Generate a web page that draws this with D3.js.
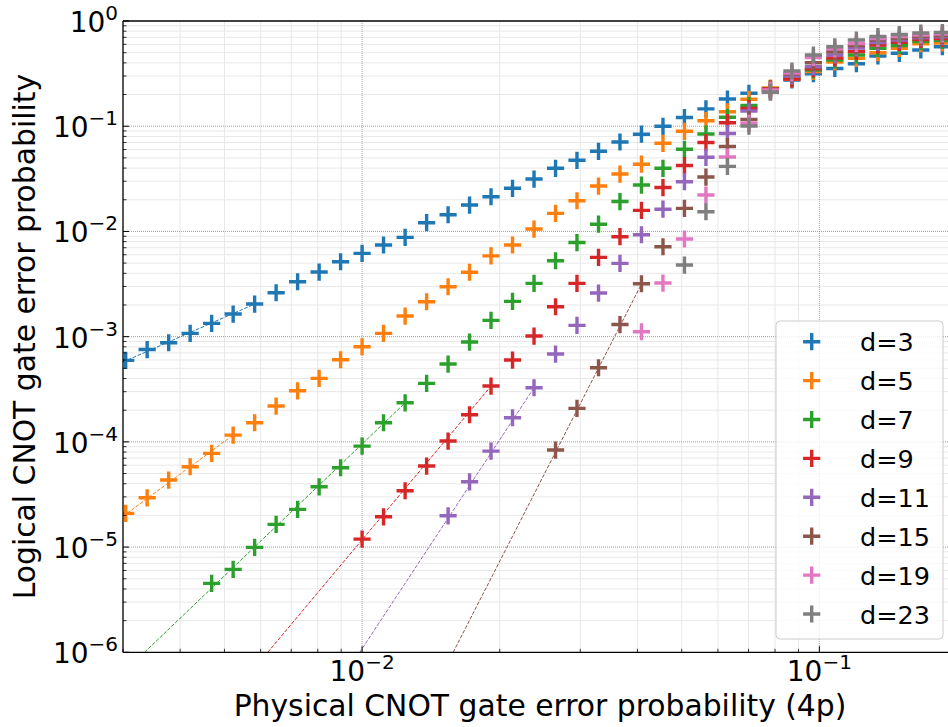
<!DOCTYPE html>
<html>
<head>
<meta charset="utf-8">
<script src="https://cdn.jsdelivr.net/npm/d3@7"></script>
<style>
html,body{margin:0;padding:0;background:#fff;}
svg{display:block;font-family:"DejaVu Sans",sans-serif;}
</style>
</head>
<body>
<svg id="chart" width="948" height="727"></svg>
<script>
// ---- data ----
const pValues = [0.003041,0.003388,0.003776,0.004207,0.004688,0.005224,0.005821,0.006486,0.007228,0.008054,0.008974,0.01,0.01114,0.01242,0.01384,0.01542,0.01718,0.01914,0.02133,0.02377,0.02649,0.02951,0.03289,0.03664,0.04083,0.04550,0.05070,0.05649,0.06295,0.07015,0.07816,0.08710,0.09705,0.1081,0.1205,0.1343,0.1496,0.1667,0.1858];

const distances = ["d=3","d=5","d=7","d=9","d=11","d=15","d=19","d=23"];
const colors = ["#1f77b4","#ff7f0e","#2ca02c","#d62728","#9467bd","#8c564b","#e377c2","#7f7f7f"];

const d3Vals = [0.000595,0.000754,0.000875,0.001075,0.001338,0.00164,0.002041,0.002615,0.003325,0.00411,0.00515,0.00619,0.00743,0.00879,0.0121,0.01441,0.01782,0.02137,0.02569,0.03148,0.0398,0.04742,0.05773,0.07076,0.08395,0.09977,0.121,0.1463,0.1814,0.2055,0.2258,0.2749,0.3155,0.3536,0.3927,0.4648,0.4931,0.5301,0.5695];
const d5Vals = [2.091e-5,2.941e-5,4.334e-5,5.80e-5,7.77e-5,1.160e-4,1.519e-4,2.189e-4,3.059e-4,4.015e-4,6.03e-4,8.02e-4,1.075e-3,1.570e-3,2.146e-3,2.980e-3,4.095e-3,5.86e-3,7.43e-3,0.01054,0.01486,0.01958,0.02701,0.03512,0.04353,0.06878,0.08945,0.1128,0.1373,0.1802,0.2307,0.2810,0.3311,0.4076,0.4418,0.4996,0.5501,0.6084,0.6178];
const d7Vals = [null,null,null,null,4.517e-6,6.14e-6,9.93e-6,1.643e-5,2.283e-5,3.742e-5,5.674e-5,9.12e-5,1.519e-4,2.352e-4,3.598e-4,5.49e-4,8.886e-4,1.429e-3,2.166e-3,3.210e-3,5.266e-3,7.84e-3,0.01171,0.01924,0.02761,0.0398,0.06031,0.08432,0.1215,0.1573,0.2258,0.2872,0.3421,0.4259,0.4751,0.5501,0.5849,0.6385,0.6526];
const d9Vals = [null,null,null,null,null,null,null,null,null,null,null,1.191e-5,1.941e-5,3.429e-5,5.888e-5,1.018e-4,1.810e-4,3.392e-4,5.99e-4,1.013e-3,1.924e-3,3.210e-3,5.672e-3,8.91e-3,0.01587,0.02614,0.0423,0.06999,0.108,0.1473,0.2258,0.281,0.352,0.4449,0.5129,0.5913,0.6275,0.667,0.6818];
const d11Vals = [null,null,null,null,null,null,null,null,null,null,null,null,null,null,null,1.983e-5,4.175e-5,8.17e-5,1.695e-4,3.268e-4,6.833e-4,1.281e-3,2.597e-3,4.974e-3,9.30e-3,0.01626,0.02968,0.05063,0.08524,0.1394,0.2161,0.3,0.3678,0.4751,0.5538,0.6246,0.6598,0.694,0.7092];
const d15Vals = [null,null,null,null,null,null,null,null,null,null,null,null,null,null,null,null,null,null,null,null,8.36e-5,2.082e-4,5.061e-4,1.303e-3,3.183e-3,7.154e-3,0.01658,0.03289,0.06412,0.1158,0.2114,0.3135,0.4015,0.5106,0.5849,0.6598,0.6848,0.7123,0.7281];
const d19Vals = [null,null,null,null,null,null,null,null,null,null,null,null,null,null,null,null,null,null,null,null,null,null,null,null,1.113e-3,3.232e-3,8.47e-3,0.02218,0.05096,0.1066,0.2209,0.3203,0.4498,0.5419,0.6111,0.6818,0.7123,0.7361,0.7523];
const d23Vals = [null,null,null,null,null,null,null,null,null,null,null,null,null,null,null,null,null,null,null,null,null,null,null,null,null,null,4.792e-3,0.01539,0.04157,0.1004,0.2114,0.3347,0.4751,0.5695,0.6598,0.7123,0.7442,0.769,0.7775];
const seriesValues = [d3Vals,d5Vals,d7Vals,d9Vals,d11Vals,d15Vals,d19Vals,d23Vals];

// low-p power-law fits (dashed), endpoints per series d=3..15
const fitP0 = [0.003, 0.003, 0.003344, 0.006218, 0.00988, 0.01582];
const fitP1 = [0.005821, 0.005224, 0.01242, 0.01914, 0.02377, 0.04083];
const fitL0 = [5.74e-4, 1.96e-5, 1e-6, 1e-6, 1e-6, 1e-6];
const fitL1 = [2.04e-3, 1.16e-4, 2.35e-4, 3.39e-4, 3.27e-4, 3.16e-3];

const xTickVals = [0.01, 0.1];
const xTickExps = ["\u22122", "\u22121"];
const yTickVals = [1, 0.1, 0.01, 0.001, 1e-4, 1e-5, 1e-6];
const yTickExps = ["0", "\u22121", "\u22122", "\u22123", "\u22124", "\u22125", "\u22126"];
const xLabel = "Physical CNOT gate error probability (4p)";
const yLabel = "Logical CNOT gate error probability";

// ---- layout ----
const L = 123, T = 21, R = 957, B = 652.3;
const svg = d3.select("#chart");
const x = d3.scaleLog().domain([0.003, 0.2]).range([L, R]);
const y = d3.scaleLog().domain([1e-6, 1]).range([B, T]);

svg.append("defs").append("clipPath").attr("id","clip")
  .append("rect").attr("x",L).attr("y",T).attr("width",R-L).attr("height",B-T);

const grid = svg.append("g");
// minor grid
const xMinor = x.ticks().filter(v => !xTickVals.includes(v) && Math.abs(Math.log10(v) - Math.round(Math.log10(v))) > 1e-6);
const yMinor = y.ticks().filter(v => Math.abs(Math.log10(v) - Math.round(Math.log10(v))) > 1e-6);
grid.selectAll(".xm").data(xMinor).enter().append("line")
  .attr("x1",d=>x(d)).attr("x2",d=>x(d)).attr("y1",T).attr("y2",B)
  .attr("stroke","#e8e8e8").attr("stroke-width",1);
grid.selectAll(".ym").data(yMinor).enter().append("line")
  .attr("x1",L).attr("x2",R).attr("y1",d=>y(d)).attr("y2",d=>y(d))
  .attr("stroke","#e8e8e8").attr("stroke-width",1);
// major grid
grid.selectAll(".xM").data(xTickVals).enter().append("line")
  .attr("x1",d=>x(d)).attr("x2",d=>x(d)).attr("y1",T).attr("y2",B)
  .attr("stroke","#8a8a8a").attr("stroke-width",0.8).attr("stroke-dasharray","1,1");
grid.selectAll(".yM").data(yTickVals.slice(1,-1)).enter().append("line")
  .attr("x1",L).attr("x2",R).attr("y1",d=>y(d)).attr("y2",d=>y(d))
  .attr("stroke","#8a8a8a").attr("stroke-width",0.8).attr("stroke-dasharray","1,1");

// fits
const plot = svg.append("g").attr("clip-path","url(#clip)");
fitP0.forEach((p0,i) => {
  plot.append("line")
    .attr("x1",x(p0)).attr("y1",y(fitL0[i]))
    .attr("x2",x(fitP1[i])).attr("y2",y(fitL1[i]))
    .attr("stroke",colors[i]).attr("stroke-width",1)
    .attr("stroke-dasharray","3.7,1.6");
});

// markers
const ms = 8.6;
seriesValues.forEach((vals,si) => {
  const pts = vals.map((v,i)=>({p:pValues[i],v})).filter(d=>d.v!==null);
  plot.append("g").selectAll("path").data(pts).enter().append("path")
    .attr("d", d => {
      const cx = x(d.p), cy = y(d.v);
      return `M${cx-ms},${cy}H${cx+ms}M${cx},${cy-ms}V${cy+ms}`;
    })
    .attr("stroke", colors[si]).attr("stroke-width",3.4).attr("fill","none");
});

// spines
const ax = svg.append("g").attr("stroke","#000").attr("stroke-width",1.3);
ax.append("line").attr("x1",L).attr("x2",L).attr("y1",T).attr("y2",B);
ax.append("line").attr("x1",L).attr("x2",R).attr("y1",B).attr("y2",B);
ax.append("line").attr("x1",L).attr("x2",R).attr("y1",T).attr("y2",T);

// ticks (inward)
const tk = svg.append("g").attr("stroke","#000");
tk.selectAll(".xt").data(xTickVals).enter().append("line")
  .attr("x1",d=>x(d)).attr("x2",d=>x(d)).attr("y1",B).attr("y2",B-6).attr("stroke-width",1);
tk.selectAll(".xmt").data(xMinor).enter().append("line")
  .attr("x1",d=>x(d)).attr("x2",d=>x(d)).attr("y1",B).attr("y2",B-3.5).attr("stroke-width",0.8);
tk.selectAll(".yt").data(yTickVals).enter().append("line")
  .attr("x1",L).attr("x2",L+6).attr("y1",d=>y(d)).attr("y2",d=>y(d)).attr("stroke-width",1);
tk.selectAll(".ymt").data(yMinor).enter().append("line")
  .attr("x1",L).attr("x2",L+3.5).attr("y1",d=>y(d)).attr("y2",d=>y(d)).attr("stroke-width",0.8);

// tick labels
function powLabel(g, px, py, exp, anchor){
  const t = g.append("text").attr("x",px).attr("y",py).attr("text-anchor",anchor)
    .attr("font-size",28).attr("fill","#000");
  t.append("tspan").text("10");
  t.append("tspan").attr("dy",-12).attr("font-size",20).text(exp);
}
const lab = svg.append("g");
yTickVals.forEach((v,i)=> powLabel(lab, 118, y(v)+11, yTickExps[i], "end"));
xTickVals.forEach((v,i)=> powLabel(lab, x(v), 681, xTickExps[i], "middle"));

// axis titles
svg.append("text").attr("x",(L+R)/2).attr("y",716).attr("text-anchor","middle")
  .attr("font-size",29.8).text(xLabel);
svg.append("text").attr("transform",`translate(35,${(T+B)/2}) rotate(-90)`)
  .attr("text-anchor","middle").attr("font-size",29.8).text(yLabel);

// legend
const lg = svg.append("g");
lg.append("rect").attr("x",776).attr("y",321).attr("width",167).attr("height",318)
  .attr("rx",4).attr("fill","#fff").attr("fill-opacity",0.8)
  .attr("stroke","#cccccc").attr("stroke-width",1);
distances.forEach((d,i)=>{
  const cy = 341.7 + i*38.9;
  lg.append("path").attr("d",`M${811.7-ms},${cy}H${811.7+ms}M${811.7},${cy-ms}V${cy+ms}`)
    .attr("stroke",colors[i]).attr("stroke-width",3.4);
  lg.append("text").attr("x",860).attr("y",cy+9.5).attr("font-size",25.5).text(d);
});
</script>
</body>
</html>
